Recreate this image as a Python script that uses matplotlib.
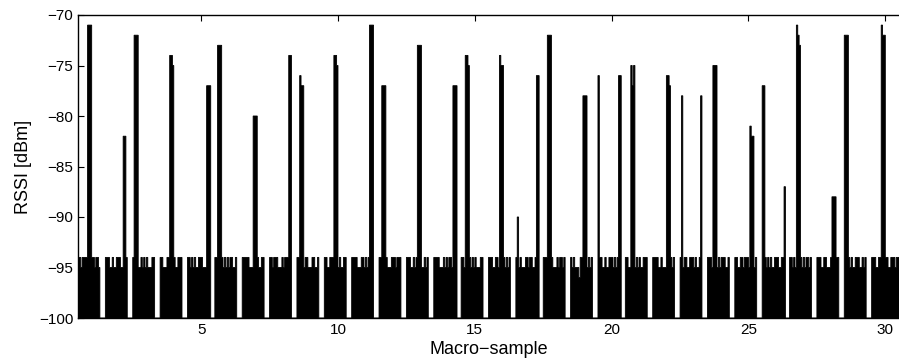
import numpy as np
import matplotlib
matplotlib.use("Agg")
import matplotlib.pyplot as plt

plt.rcParams['font.family'] = ['Liberation Sans', 'DejaVu Sans']

# samples per macro-sample (each macro-sample spans one unit on the x axis)
SAMPLES_PER_MACRO = 20
FLOOR = -100

# noise floor per macro-sample: '4' = -94 dBm, '5' = -95, '6' = -96, '0' = no reading (-100)
noise_blocks = [
    "4454444555445445" "0000",
    "4445545544455444" "0000",
    "4444554545455544" "0000",
    "4455544454455444" "0000",
    "4454545544455544" "0000",
    "4445545454544554" "0000",
    "4444455545445544" "0000",
    "4454445554544454" "0000",
    "4445454455544554" "0000",
    "4455444545545544" "0000",
    "4444555445454454" "0000",
    "4454545554445444" "0000",
    "4445545444555454" "0000",
    "4444555454544544" "0000",
    "4455444545455544" "0000",
    "4445544554445454" "0000",
    "4454555445445544" "0000",
    "4445444555454454" "0000",
    "4545556444555454" "0000",
    "4445545544454544" "0000",
    "4455444545455444" "0000",
    "4444554555445454" "0000",
    "4454455444545544" "0000",
    "4445545545444554" "0000",
    "4455445444555454" "0000",
    "4445454554445544" "0000",
    "4454555445454454" "0000",
    "4445544555445444" "0000",
    "4454545544455454" "0000",
    "44455445454455444544",
]

# strong readings: start position (macro-sample units) and consecutive sample values [dBm]
peak_start = [0.85, 2.16, 2.57, 3.87, 5.18, 5.60, 6.90, 8.21, 8.62, 9.85,
              11.17, 11.60, 12.88, 14.20, 14.65, 15.92, 16.55, 17.23, 17.66, 18.96,
              19.50, 20.24, 20.69, 21.98, 22.56, 23.26, 23.71, 25.03, 25.51, 26.29,
              26.73, 28.06, 28.52, 29.83]
peak_values = [
    [-71, -71, -71], [-82, -82], [-72, -72, -72], [-74, -74, -75],
    [-77, -77, -77], [-73, -73, -73], [-80, -80, -80], [-74, -74],
    [-76, -77, -77], [-74, -74, -75], [-71, -71, -71], [-77, -77, -77],
    [-73, -73, -73], [-77, -77, -77], [-74, -74, -75], [-74, -75, -75],
    [-90], [-76, -76], [-72, -72, -72], [-78, -78, -78],
    [-76], [-76, -76], [-75, -77, -75], [-76, -76, -77], [-78],
    [-78], [-75, -75, -75], [-81, -82, -82], [-77, -77], [-87],
    [-71, -72, -73], [-88, -88, -88], [-72, -72, -72], [-71, -72, -72],
]

code = {'0': FLOOR, '4': -94, '5': -95, '6': -96}
rssi = np.array([code[c] for c in "".join(noise_blocks)], dtype=float)
edges = 0.5 + np.arange(len(rssi) + 1) / SAMPLES_PER_MACRO

for x0, vals in zip(peak_start, peak_values):
    i0 = int(round((x0 - 0.5) * SAMPLES_PER_MACRO))
    rssi[i0:i0 + len(vals)] = vals

fig = plt.figure(figsize=(8.99, 3.62), dpi=100)
ax = fig.add_axes([78 / 899, 44 / 362, 821 / 899, 303 / 362])

ax.stairs(rssi, edges, baseline=FLOOR, fill=True, facecolor='black',
          edgecolor='black', linewidth=0.6)

ax.set_xlim(0.5, 30.5)
ax.set_ylim(-100, -70)
ax.set_xticks([5, 10, 15, 20, 25, 30])
ax.set_yticks(np.arange(-100, -69, 5))
ax.set_yticklabels([f"\u2212{abs(v)}" for v in range(-100, -69, 5)])
ax.tick_params(direction='in', length=4, labelsize=11, top=True, width=0.8)
ax.spines['right'].set_visible(False)
for s in ['left', 'bottom', 'top']:
    ax.spines[s].set_linewidth(1.0)

ax.set_xlabel('Macro\u2212sample', fontsize=13, labelpad=3)
ax.set_ylabel('RSSI [dBm]', fontsize=13, labelpad=5)

plt.savefig('out.png', dpi=100)
